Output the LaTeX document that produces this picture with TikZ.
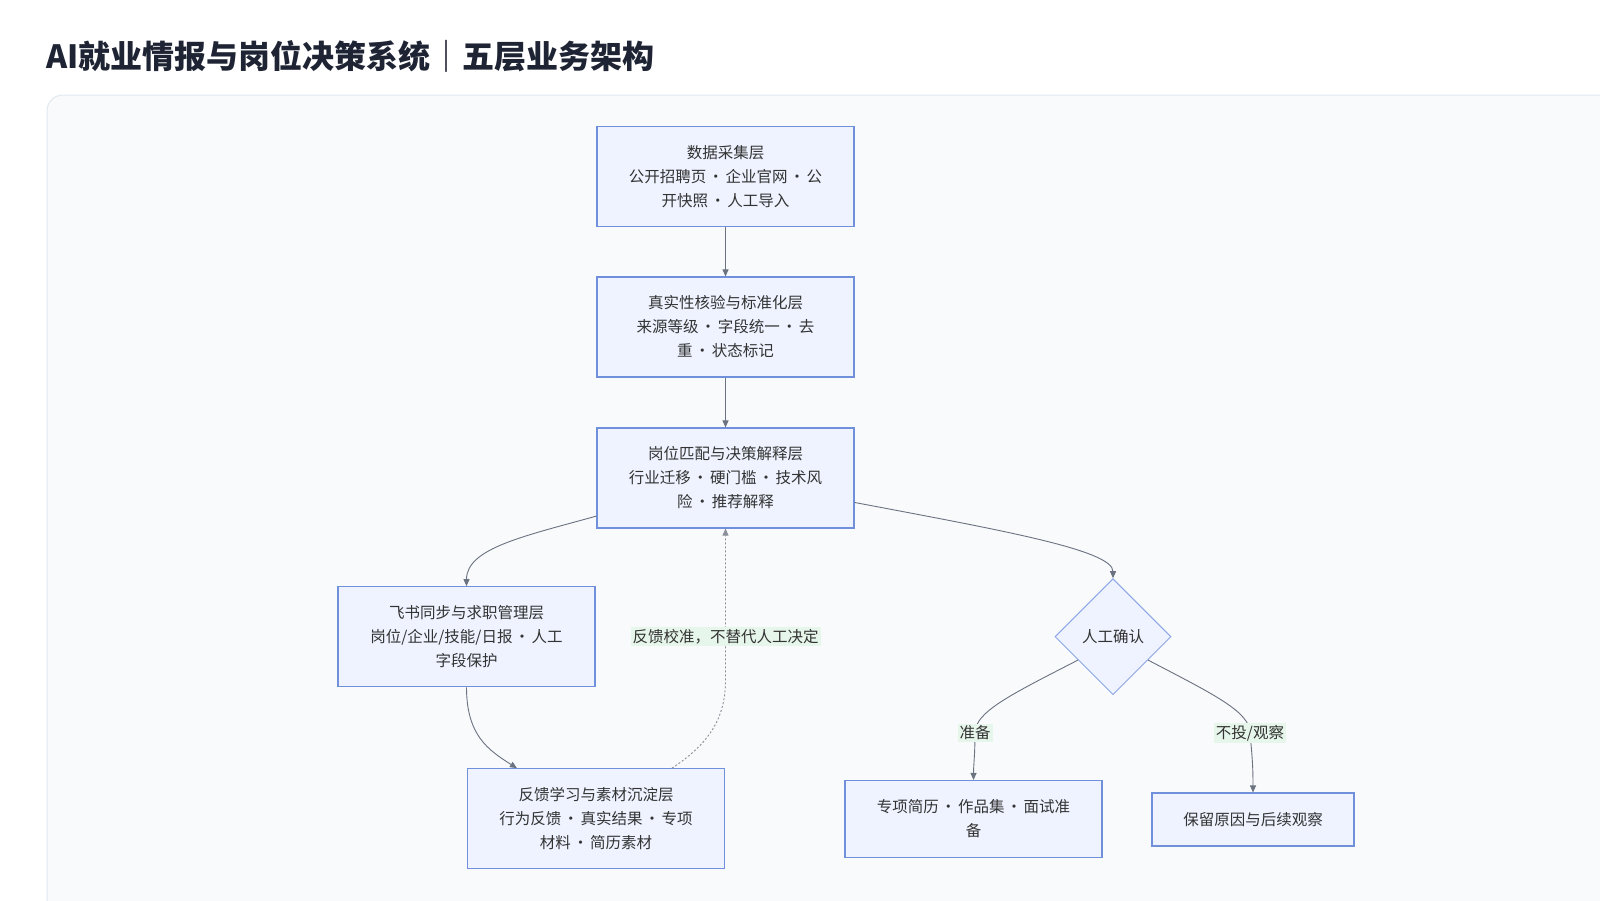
\documentclass[tikz,border=0pt]{standalone}
\usepackage{fontspec}
\setmainfont{Noto Sans CJK SC}
\usetikzlibrary{arrows.meta,shapes.geometric,calc}
\definecolor{nodefill}{HTML}{EEF3FF}
\definecolor{nodedraw}{HTML}{7090DC}
\definecolor{diadraw}{HTML}{8EA6E6}
\definecolor{edgecol}{HTML}{6B7280}
\definecolor{dashcol}{HTML}{8A8F99}
\definecolor{lblbg}{HTML}{E6F6EA}
\definecolor{txt}{HTML}{333333}
\definecolor{ttl}{HTML}{1E2433}
\definecolor{panelfill}{HTML}{F8FAFC}
\definecolor{paneldraw}{HTML}{E2E8F0}
\newcommand\mdt{\hspace{1.8pt}·\hspace{1.8pt}}
\begin{document}
\begin{tikzpicture}[x=1pt,y=-1pt,
  box/.style={draw=nodedraw, fill=nodefill, line width=1.1pt, minimum width=257pt, minimum height=100pt, align=center, inner sep=0pt, text=txt, font=\fontsize{15.5}{24}\selectfont},
  dia/.style={diamond, draw=diadraw, fill=nodefill, line width=1pt, minimum width=116pt, minimum height=116pt, inner sep=0pt, text=txt, font=\fontsize{15.5}{24}\selectfont},
  conn/.style={draw=edgecol, line width=0.9pt, -{Triangle[length=7pt,width=6pt]}},
  fb/.style={draw=dashcol, line width=0.9pt, dash pattern=on 2pt off 2pt, -{Triangle[length=7pt,width=6pt]}},
  lbl/.style={fill=lblbg, text=txt, font=\fontsize{15.5}{20}\selectfont, inner sep=2pt}
]
\useasboundingbox (0,0) rectangle (1600,900);
\clip (0,0) rectangle (1600,900);
\fill[white] (0,0) rectangle (1600,900);
\node[anchor=base west, inner sep=0pt, text=ttl, font=\fontsize{32}{36}\selectfont\bfseries] (title) at (46,68) {AI就业情报与岗位决策系统｜五层业务架构};
\draw[fill=panelfill, draw=paneldraw, line width=1pt, rounded corners=16pt] (47,95) rectangle (1640,940);

\node[box] (n1) at (725.5,176.5) {数据采集层\\公开招聘页\mdt 企业官网\mdt 公\\开快照\mdt 人工导入};
\node[box] (n2) at (725.5,327) {真实性核验与标准化层\\来源等级\mdt 字段统一\mdt 去\\重\mdt 状态标记};
\node[box] (n3) at (725.5,478) {岗位匹配与决策解释层\\行业迁移\mdt 硬门槛\mdt 技术风\\险\mdt 推荐解释};
\node[box] (n4) at (466.5,636.7) {飞书同步与求职管理层\\岗位/企业/技能/日报\mdt 人工\\字段保护};
\node[box] (n5) at (596,818.7) {反馈学习与素材沉淀层\\行为反馈\mdt 真实结果\mdt 专项\\材料\mdt 简历素材};
\node[dia] (d) at (1113,636.7) {人工确认};
\node[box, minimum height=77pt] (n6) at (973.5,819) {专项简历\mdt 作品集\mdt 面试准\\备};
\node[box, minimum width=202pt, minimum height=53pt] (n7) at (1253,819.5) {保留原因与后续观察};

\draw[conn] (n1) -- (n2);
\draw[conn] (n2) -- (n3);
\draw[conn] ($(n3.south west)+(0,-12.5)$) .. controls (525,536) and (466.5,548) .. (n4.north);
\draw[conn] (n4.south) .. controls (466.5,735) and (488,750) .. ($(n5.north west)+(50,0)$);
\draw[fb] ($(n5.north west)+(205,0)$) .. controls (712,742) and (725.5,715) .. (725.5,680)
  -- node[lbl, pos=0.286] (l0) {反馈校准，不替代人工决定} (n3.south);
\draw[conn] ($(n3.north east)+(0,75)$) .. controls (1000,530) and (1113,550) .. (d.north);
\draw[conn] ($(d.west)!0.4!(d.south)$) .. controls (1010,695) and (975,712) .. (975,733)
  node[lbl] (l1) {准备} .. controls (975,755) and (973.5,765) .. (n6.north);
\draw[conn] ($(d.east)!0.4!(d.south)$) .. controls (1215,695) and (1250,712) .. (1250,733)
  node[lbl] (l2) {不投/观察} .. controls (1252,755) and (1253,765) .. (n7.north);
\end{tikzpicture}
\end{document}
